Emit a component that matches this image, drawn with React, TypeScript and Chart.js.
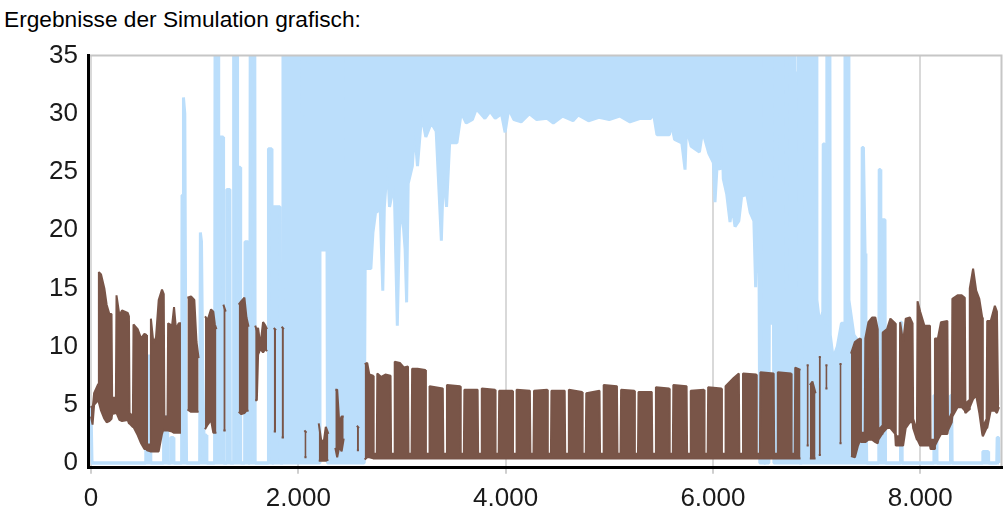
import React, { useEffect, useRef } from 'react';
import { Chart, registerables } from 'chart.js';

Chart.register(...registerables);

const TITLE = 'Ergebnisse der Simulation grafisch:';
const FONT = '"Liberation Sans", Arial, sans-serif';

const xTickValues = [0, 2000, 4000, 6000, 8000];
const xTickLabels = ['0', '2.000', '4.000', '6.000', '8.000'];
const yTickValues = [0, 5, 10, 15, 20, 25, 30, 35];

// [hour, lower edge, upper edge] of the daily swing of each series (null = no value)
type Row = [number, number | null, number | null];

const blueJanToApr: Row[] = [
  [0, 0, 4.9], [10, 0, 0], [528, 0, 0], [533, 0, 9.2], [572, 0, 9.2], [577, 0, 0],
  [695, 0, 0], [700, 0, 4.0], [735, 0, 4.0], [740, 0, 0],
  [765, 0, 0], [770, 0, 2.2], [795, 0, 2.2], [800, 0, 0],
  [874, 0, 0], [878, 0, 23.0], [888, 0, 23.0], [892, 0, 31.4], [905, 0, 30.0], [915, 0, 8.0], [922, 0, 0],
  [1048, 0, 0], [1055, 0, 19.8], [1066, 0, 19.0], [1078, 0, 8.0], [1090, 0, 2.4], [1112, 0, 2.4], [1118, 0, 0],
  [1192, 0, 0], [1197, 0, 40], [1228, 0, 40], [1232, 0, 28.0], [1275, 0, 28.0], [1279, 0, 0],
  [1305, 0, 0], [1310, 0, 23.5], [1340, 0, 23.5], [1344, 0, 0],
  [1372, 0, 0], [1376, 0, 40], [1410, 0, 40], [1414, 0, 25.4], [1440, 0, 25.4], [1444, 0, 0],
  [1482, 0, 0], [1486, 0, 19.0], [1514, 0, 19.0], [1518, 0, 0],
  [1532, 0, 0], [1536, 0, 40], [1580, 0, 40], [1584, 0, 0],
  [1708, 0, 0], [1712, 0, 27.0], [1742, 0, 27.0], [1746, 0, 0],
  [1758, 0, 0], [1762, 0, 22.0], [1822, 0, 22.0], [1826, 0, 0],
  [1846, 0, 0], [1852, 0, 40],
  [2030, 0, 40], [2034, 0, 29.9], [2040, 0, 29.9], [2044, 0, 40],
  [2092, 0, 40], [2094, 0, 34.4], [2097, 0, 40],
  [2205, 0, 40], [2209, 18.3, 40], [2277, 18.3, 40], [2281, 0, 40],
  [2462, 0, 40], [2465, 0, 22.3], [2470, 0, 22.3], [2473, 0, 40],
  [2636, 0, 40],
];

const blueAprToOct: Row[] = [
  [2645, 16.7, 40], [2700, 16.7, 40], [2720, 19.8, 40], [2745, 21.5, 40], [2790, 21.8, 40],
  [2815, 14.8, 40], [2830, 22.0, 40], [2860, 25.7, 40], [2880, 22.0, 40], [2925, 24.0, 40],
  [2955, 11.8, 40], [2975, 20.0, 40], [3000, 22.0, 40], [3030, 18.4, 40], [3045, 13.8, 40],
  [3060, 24.0, 40], [3100, 25.5, 40], [3122, 28.5, 40], [3150, 25.5, 40], [3190, 29.9, 40],
  [3230, 28.0, 40], [3283, 29.2, 40], [3330, 28.5, 40], [3380, 19.1, 40], [3400, 25.0, 40],
  [3430, 22.0, 40], [3460, 27.5, 40], [3530, 27.5, 40], [3572, 30.1, 40], [3620, 29.2, 40],
  [3680, 29.5, 40], [3717, 30.4, 40], [3760, 30.0, 40], [3800, 29.6, 40], [3850, 30.2, 40],
  [3900, 29.6, 40], [3960, 30.0, 40], [3995, 28.4, 40], [4030, 30.4, 40], [4080, 29.5, 40],
  [4150, 29.3, 40], [4230, 30.0, 40], [4300, 29.5, 40], [4400, 29.6, 40], [4460, 29.2, 40],
  [4550, 29.8, 40], [4650, 29.4, 40], [4700, 29.9, 40], [4800, 29.4, 40], [4900, 29.7, 40],
  [5000, 29.5, 40], [5100, 29.8, 40], [5200, 29.3, 40], [5300, 29.6, 40], [5400, 29.6, 40],
  [5425, 30.1, 40], [5460, 28.2, 40], [5580, 28.2, 40], [5600, 29.1, 40], [5630, 27.8, 40],
  [5700, 27.5, 40], [5731, 25.2, 40], [5745, 28.8, 40], [5790, 27.2, 40], [5870, 26.7, 40],
  [5900, 28.5, 40], [5960, 26.6, 40], [6004, 25.8, 40], [6020, 22.4, 40], [6040, 25.5, 40],
  [6068, 25.2, 40], [6085, 29.0, 40], [6100, 24.4, 40], [6133, 23.1, 40], [6165, 20.7, 40],
  [6185, 22.1, 40], [6213, 20.3, 40], [6250, 20.8, 40], [6277, 22.9, 40], [6326, 23.1, 40],
  [6360, 21.5, 40], [6395, 20.8, 40], [6412, 15.1, 40], [6425, 20.0, 40], [6445, 16.3, 40],
  [6452, 0, 40],
  [6490, 0, 40], [6493, 0, 0], [6503, 0, 0], [6506, 0, 40],
  [6540, 0, 40], [6544, 12.0, 40], [6584, 12.0, 40], [6588, 0, 40],
  [6600, 0, 40], [6603, 0, 23.5], [6612, 0, 23.5], [6615, 0, 40],
  [6700, 0, 40], [6703, 0, 15.0], [6712, 0, 15.0], [6715, 0, 40],
  [6790, 0, 40], [6793, 0, 33.5], [6822, 0, 33.5], [6825, 0, 40],
  [6832, 0, 40], [6835, 0, 0], [6855, 0, 0], [6858, 0, 40],
  [6998, 0, 40],
];

const blueOctToDec: Row[] = [
  [7003, 0, 14.0], [7030, 0, 12.0], [7060, 0, 13.0], [7064, 0, 27.4], [7078, 0, 27.4], [7082, 0, 12.0],
  [7096, 0, 12.0], [7099, 0, 40], [7128, 0, 40], [7132, 0, 11.0],
  [7160, 0, 9.0], [7200, 0, 10.0], [7240, 0, 12.0],
  [7270, 0, 12.0], [7274, 0, 40], [7306, 0, 40], [7312, 0, 14.0], [7360, 0, 11.0],
  [7436, 0, 10.0], [7440, 0, 27.1], [7452, 0, 27.1], [7468, 0, 18.0], [7476, 0, 6.0], [7484, 0, 0],
  [7600, 0, 0], [7604, 0, 25.2], [7615, 0, 25.2], [7620, 0, 20.9], [7660, 0, 20.9], [7665, 0, 0],
  [7806, 0, 0], [7810, 0, 12.1], [7822, 0, 12.1], [7826, 0, 0],
  [8128, 0, 0], [8132, 0, 5.8], [8158, 0, 5.8], [8162, 0, 0],
  [8288, 0, 0], [8292, 0, 5.8], [8304, 0, 5.8], [8308, 0, 0],
  [8600, 0, 0], [8604, 0, 1.0], [8655, 0, 1.0], [8660, 0, 0],
  [8738, 0, 0], [8742, 0, 2.2], [8756, 0, 2.2], [8760, 0, 0],
];

const brownJanToApr: Row[] = [
  [0, 4.0, 4.9], [15, 3.3, 4.6], [30, 5.0, 6.0], [70, 5.4, 6.8],
  [76, 5.2, 16.4], [97, 4.5, 16.2], [129, 3.8, 15.0], [151, 3.5, 13.6], [177, 3.6, 12.8], [198, 3.8, 12.8],
  [204, 4.2, 5.6], [240, 4.3, 5.6],
  [246, 4.3, 14.4], [274, 3.7, 12.7], [299, 3.6, 13.1], [354, 3.7, 12.9], [366, 3.4, 12.6],
  [372, 3.4, 4.3], [404, 3.1, 4.0],
  [410, 3.1, 11.9], [450, 2.4, 11.5], [483, 1.7, 10.7], [515, 1.2, 11.1], [534, 1.2, 11.0],
  [540, 1.1, 1.6], [572, 1.0, 1.6],
  [578, 1.0, 12.4], [602, 1.0, 10.3], [627, 1.0, 10.8], [653, 1.0, 14.0], [685, 2.5, 14.9], [702, 3.0, 14.5],
  [708, 2.8, 4.0], [738, 2.8, 4.0],
  [744, 2.8, 12.0], [782, 2.7, 11.8], [801, 2.6, 13.4], [820, 2.6, 11.5], [846, 2.6, 12.0], [868, 2.6, 12.0],
  [874, null, null],
  [930, 4.6, 14.2], [965, 4.4, 14.3], [997, 4.4, 14.0], [1018, 4.4, 10.4], [1038, 4.4, 9.0],
  [1045, null, null],
  [1100, 2.9, 12.6], [1126, 3.3, 12.3], [1158, 3.7, 13.2], [1180, 2.6, 13.0], [1195, 2.6, 11.9], [1210, 2.6, 11.5],
  [1215, null, null],
  [1277, 2.8, 13.6], [1299, 2.8, 13.0],
  [1303, null, null],
  [1425, 4.4, 13.6], [1450, 4.2, 13.9], [1480, 4.3, 14.2], [1500, 4.5, 12.5], [1520, 4.5, 11.7],
  [1525, null, null],
  [1584, 5.4, 11.8], [1600, 5.4, 11.4], [1612, 9.3, 11.6], [1634, 9.8, 10.1], [1660, 9.5, 12.1], [1682, 9.8, 11.8], [1698, 9.6, 11.5],
  [1703, null, null],
  [1763, 2.7, 11.6], [1785, 2.7, 11.4],
  [1789, null, null],
  [1839, 2.2, 11.7], [1861, 2.2, 11.5],
  [1865, null, null],
  [2059, 0.5, 2.8], [2079, 0.5, 2.6],
  [2083, null, null],
  [2197, 0.2, 3.4], [2220, 0.2, 2.0], [2245, 0.2, 1.8], [2265, 0.2, 3.1], [2290, 0.3, 2.5],
  [2295, null, null],
  [2357, 1.3, 6.3], [2375, 0.5, 6.3], [2395, 1.4, 3.5], [2418, 1.0, 4.0], [2438, 2.1, 4.0],
  [2443, null, null],
  [2565, 1.1, 3.2], [2585, 1.1, 3.0],
  [2589, null, null],
];

const brownAprToOct: Row[] = [
  [2640, 0.3, 8.5], [2665, 0.5, 8.6], [2685, 0.5, 7.6], [2722, 0.4, 7.5],
  [2727, 0.4, 0.8], [2757, 0.4, 0.8],
  [2762, 0.4, 7.7], [2800, 0.4, 7.4], [2840, 0.4, 7.6], [2890, 0.4, 7.5],
  [2895, 0.4, 0.8], [2925, 0.4, 0.8],
  [2930, 0.4, 8.7], [2980, 0.4, 8.6], [3020, 0.4, 8.2], [3058, 0.4, 8.3],
  [3063, 0.4, 0.8], [3093, 0.4, 0.8],
  [3098, 0.4, 8.1], [3150, 0.4, 8.1], [3226, 0.4, 8.0],
  [3231, 0.4, 0.8], [3261, 0.4, 0.8],
  [3266, 0.4, 6.6], [3394, 0.4, 6.4],
  [3399, 0.4, 0.8], [3429, 0.4, 0.8],
  [3434, 0.4, 6.7], [3562, 0.4, 6.6],
  [3567, 0.4, 0.8], [3597, 0.4, 0.8],
  [3602, 0.4, 6.3], [3730, 0.4, 6.3],
  [3735, 0.4, 0.8], [3765, 0.4, 0.8],
  [3770, 0.4, 6.4], [3898, 0.4, 6.3],
  [3903, 0.4, 0.8], [3933, 0.4, 0.8],
  [3938, 0.4, 6.2], [4066, 0.4, 6.2],
  [4071, 0.4, 0.8], [4101, 0.4, 0.8],
  [4106, 0.4, 6.3], [4234, 0.4, 6.2],
  [4239, 0.4, 0.8], [4269, 0.4, 0.8],
  [4274, 0.4, 6.2], [4402, 0.4, 6.3],
  [4407, 0.4, 0.8], [4437, 0.4, 0.8],
  [4442, 0.4, 6.2], [4570, 0.4, 6.2],
  [4575, 0.4, 0.8], [4605, 0.4, 0.8],
  [4610, 0.4, 6.3], [4738, 0.4, 6.1],
  [4743, 0.4, 0.8], [4773, 0.4, 0.8],
  [4778, 0.4, 6.0], [4906, 0.4, 6.2],
  [4911, 0.4, 0.8], [4941, 0.4, 0.8],
  [4946, 0.4, 6.7], [5074, 0.4, 6.6],
  [5079, 0.4, 0.8], [5109, 0.4, 0.8],
  [5114, 0.4, 6.3], [5242, 0.4, 6.2],
  [5247, 0.4, 0.8], [5277, 0.4, 0.8],
  [5282, 0.4, 6.1], [5410, 0.4, 6.1],
  [5415, 0.4, 0.8], [5445, 0.4, 0.8],
  [5450, 0.4, 6.5], [5578, 0.4, 6.4],
  [5583, 0.4, 0.8], [5613, 0.4, 0.8],
  [5618, 0.4, 6.7], [5746, 0.4, 6.6],
  [5751, 0.4, 0.8], [5781, 0.4, 0.8],
  [5786, 0.4, 6.2], [5914, 0.4, 6.3],
  [5919, 0.4, 0.8], [5949, 0.4, 0.8],
  [5954, 0.4, 6.5], [6082, 0.4, 6.4],
  [6087, 0.4, 0.8], [6117, 0.4, 0.8],
  [6122, 0.4, 6.6], [6200, 0.4, 7.3], [6250, 0.4, 7.7],
  [6255, 0.4, 0.8], [6285, 0.4, 0.8],
  [6290, 0.4, 7.7], [6418, 0.4, 7.6],
  [6423, 0.4, 0.8], [6453, 0.4, 0.8],
  [6458, 0.4, 7.8], [6586, 0.4, 7.7],
  [6591, 0.4, 0.8], [6621, 0.4, 0.8],
  [6626, 0.4, 7.8], [6754, 0.4, 7.7],
  [6759, 0.4, 0.8], [6789, 0.4, 0.8],
  [6794, 0.4, 8.2], [6845, 0.4, 8.0],
  [6850, null, null],
  [6904, 1.5, 8.4], [6924, 1.5, 8.4],
  [6928, null, null],
  [6935, 0.4, 6.7], [6960, 0.4, 7.0], [6990, 0.4, 6.0],
  [6995, null, null],
  [7021, 0.7, 9.1], [7041, 0.7, 9.1],
  [7045, null, null],
  [7085, 6.4, 8.4], [7105, 6.4, 8.4],
  [7109, null, null],
  [7221, 1.7, 8.5], [7241, 1.7, 8.5],
  [7245, null, null],
];

const brownOctToDec: Row[] = [
  [7332, 0.6, 9.4], [7370, 0.5, 10.4], [7400, 1.5, 10.6], [7422, 2.0, 10.7],
  [7428, 1.8, 2.6], [7464, 1.8, 2.6],
  [7470, 1.8, 10.7], [7500, 2.0, 12.1], [7535, 2.0, 12.5], [7567, 1.8, 12.5], [7590, 1.7, 11.5],
  [7596, 2.0, 2.8], [7632, 2.5, 3.2],
  [7638, 2.6, 11.2], [7680, 3.0, 11.5], [7712, 3.0, 12.4], [7758, 2.5, 12.0],
  [7764, 1.5, 2.3], [7800, 1.5, 2.3],
  [7806, 1.5, 12.1], [7835, 1.5, 10.4], [7860, 3.0, 12.4], [7900, 3.5, 12.5], [7926, 3.5, 12.0],
  [7932, 3.0, 3.8], [7968, 2.0, 2.8],
  [7974, 2.0, 13.9], [8000, 1.5, 13.0], [8040, 1.5, 11.8], [8094, 1.5, 11.8],
  [8100, 1.2, 2.0], [8136, 1.2, 2.0],
  [8142, 1.5, 10.7], [8170, 2.0, 10.7], [8200, 2.5, 12.1], [8262, 2.5, 12.2],
  [8268, 2.8, 3.6], [8304, 3.5, 4.3],
  [8310, 4.0, 14.1], [8360, 4.8, 14.4], [8400, 4.8, 14.4], [8430, 4.5, 14.2],
  [8436, 4.3, 5.1], [8472, 4.6, 5.4],
  [8478, 4.8, 15.0], [8510, 5.5, 16.7], [8540, 5.8, 14.8], [8570, 4.3, 14.1], [8598, 2.5, 12.5],
  [8604, 2.3, 3.1], [8640, 3.0, 3.8],
  [8646, 3.0, 12.2], [8680, 4.5, 12.2], [8720, 4.5, 13.5], [8740, 4.3, 13.0],
  [8752, 4.6, 5.0], [8760, 4.8, 5.0],
];

const BLUE = '#bbdefb';
const BROWN = '#795548';

const blueRows = [...blueJanToApr, ...blueAprToOct, ...blueOctToDec];
const brownRows = [...brownJanToApr, ...brownAprToOct, ...brownOctToDec];

const pts = (rows: Row[], i: 1 | 2) => rows.map((r) => ({ x: r[0], y: r[i] }));

const framePlugin = {
  id: 'frame',
  afterDatasetsDraw(chart: any) {
    const { ctx, chartArea } = chart;
    const { left, right, top, bottom } = chartArea;
    ctx.save();
    ctx.strokeStyle = '#c6c6c6';
    ctx.lineWidth = 2;
    ctx.beginPath();
    ctx.moveTo(left, top);
    ctx.lineTo(right, top);
    ctx.lineTo(right, bottom);
    ctx.stroke();
    ctx.restore();
  },
};

export default function App() {
  const ref = useRef<HTMLCanvasElement | null>(null);

  useEffect(() => {
    if (!ref.current) return;
    const common = {
      pointRadius: 0,
      pointHoverRadius: 0,
      tension: 0,
      spanGaps: false,
      borderJoinStyle: 'bevel' as const,
    };
    const chart = new Chart(ref.current, {
      type: 'line',
      data: {
        datasets: [
          { ...common, label: 'brown max', data: pts(brownRows, 2), borderColor: BROWN, backgroundColor: BROWN, borderWidth: 2, fill: '+1', order: 0 },
          { ...common, label: 'brown min', data: pts(brownRows, 1), borderColor: BROWN, backgroundColor: BROWN, borderWidth: 2, fill: false, order: 0 },
          { ...common, label: 'blue max', data: pts(blueRows, 2), borderColor: BLUE, backgroundColor: BLUE, borderWidth: 3, fill: '+1', order: 1 },
          { ...common, label: 'blue min', data: pts(blueRows, 1), borderColor: BLUE, backgroundColor: BLUE, borderWidth: 3, fill: false, order: 1 },
        ],
      },
      options: {
        animation: false,
        responsive: false,
        events: [],
        layout: { padding: { top: 55.5, right: 6.5, left: 0, bottom: 0 } },
        plugins: { legend: { display: false }, tooltip: { enabled: false }, title: { display: false } },
        scales: {
          x: {
            type: 'linear',
            min: -29,
            max: 8784,
            afterBuildTicks: (s: any) => {
              s.ticks = xTickValues.map((v) => ({ value: v }));
            },
            afterFit: (s: any) => {
              s.height = 51.3;
            },
            ticks: {
              autoSkip: false,
              maxRotation: 0,
              padding: 10,
              color: '#1a1a1a',
              font: { family: FONT, size: 26 },
              callback: (v: any) => {
                const i = xTickValues.indexOf(Number(v));
                return i >= 0 ? xTickLabels[i] : '';
              },
            },
            grid: { color: '#d9d9d9', lineWidth: 2, drawTicks: true, tickLength: 6, tickColor: '#cfcfcf' },
            border: { display: true, color: '#000000', width: 3, z: 1 },
          },
          y: {
            type: 'linear',
            min: -0.4,
            max: 35,
            afterBuildTicks: (s: any) => {
              s.ticks = yTickValues.map((v) => ({ value: v }));
            },
            afterFit: (s: any) => {
              s.width = 88;
            },
            ticks: {
              padding: 10,
              color: '#1a1a1a',
              font: { family: FONT, size: 26 },
            },
            grid: { display: false, drawTicks: false },
            border: { display: true, color: '#000000', width: 3, z: 1 },
          },
        },
      },
      plugins: [framePlugin],
    } as any);
    return () => chart.destroy();
  }, []);

  return (
    <div style={{ position: 'absolute', left: 0, top: 0, width: 1008, height: 519, background: '#ffffff', overflow: 'hidden' }}>
      <div
        style={{
          position: 'absolute',
          left: 4,
          top: 8.2,
          fontFamily: FONT,
          fontSize: 22.7,
          lineHeight: '22px',
          color: '#000',
          whiteSpace: 'nowrap',
        }}
      >
        {TITLE}
      </div>
      <canvas ref={ref} width={1008} height={519} style={{ position: 'absolute', left: 0, top: 0, width: 1008, height: 519 }} />
    </div>
  );
}
